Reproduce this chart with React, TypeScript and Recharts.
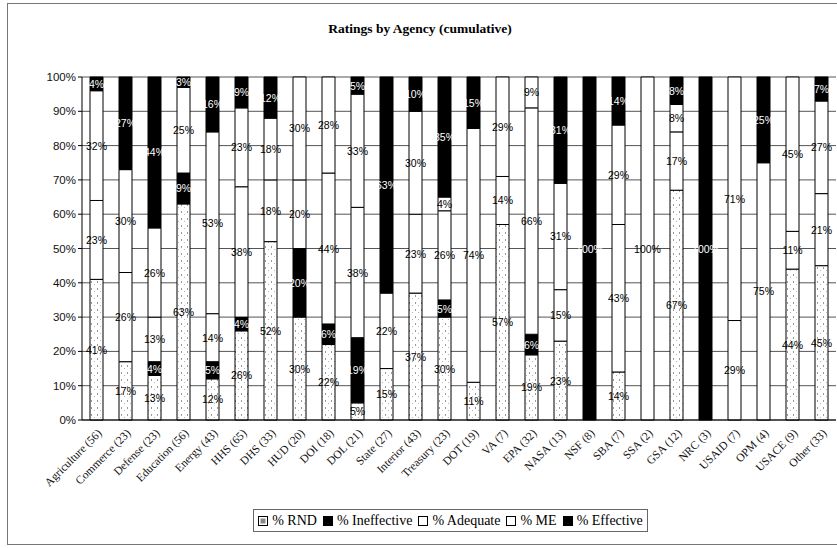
import React from 'react';
import {
  BarChart,
  Bar,
  XAxis,
  YAxis,
  CartesianGrid,
  LabelList,
} from 'recharts';

// agencies (number of programs in parentheses)
const agencies = [
  'Agriculture (56)', 'Commerce (23)', 'Defense (23)', 'Education (56)', 'Energy (43)',
  'HHS (65)', 'DHS (33)', 'HUD (20)', 'DOI (18)', 'DOL (21)', 'State (27)',
  'Interior (43)', 'Treasury (23)', 'DOT (19)', 'VA (7)', 'EPA (32)', 'NASA (13)',
  'NSF (8)', 'SBA (7)', 'SSA (2)', 'GSA (12)', 'NRC (3)', 'USAID (7)', 'OPM (4)',
  'USACE (9)', 'Other (33)',
];

// percent of programs per rating, bottom to top of each stack
const rnd = [41, 17, 13, 63, 12, 26, 52, 30, 22, 5, 15, 37, 30, 11, 57, 19, 23, 0, 14, 0, 67, 0, 0, 0, 44, 45];
const ineffective = [0, 0, 4, 9, 5, 4, 0, 20, 6, 19, 0, 0, 5, 0, 0, 6, 0, 0, 0, 0, 0, 0, 0, 0, 0, 0];
const adequate = [23, 26, 13, 0, 14, 38, 18, 20, 44, 38, 22, 23, 26, 0, 14, 66, 15, 0, 43, 100, 17, 0, 29, 75, 11, 21];
const me = [32, 30, 26, 25, 53, 23, 18, 30, 28, 33, 0, 30, 4, 74, 29, 9, 31, 0, 29, 0, 8, 0, 71, 0, 45, 27];
const effective = [4, 27, 44, 3, 16, 9, 12, 0, 0, 5, 63, 10, 35, 15, 0, 0, 31, 100, 14, 0, 8, 100, 0, 25, 0, 7];

const yTicks = [0, 10, 20, 30, 40, 50, 60, 70, 80, 90, 100];

const data = agencies.map((name, i) => ({
  name,
  rnd: rnd[i],
  ineffective: ineffective[i],
  adequate: adequate[i],
  me: me[i],
  effective: effective[i],
}));

const SERIES = [
  { key: 'rnd', name: '% RND', fill: 'url(#rndPattern)', text: '#000' },
  { key: 'ineffective', name: '% Ineffective', fill: '#000', text: '#fff' },
  { key: 'adequate', name: '% Adequate', fill: '#fff', text: '#000' },
  { key: 'me', name: '% ME', fill: '#fff', text: '#000' },
  { key: 'effective', name: '% Effective', fill: '#000', text: '#fff' },
];

const SERIF = "'Liberation Serif', 'Times New Roman', serif";
const SANS = "'Liberation Sans', Arial, sans-serif";

const AgencyTick = (props: any) => {
  const { x, y, payload } = props;
  const tx = x + 4;
  const ty = y + 4;
  return (
    <text
      x={tx}
      y={ty}
      transform={`rotate(-45, ${tx}, ${ty})`}
      textAnchor="end"
      dominantBaseline="middle"
      fontFamily={SERIF}
      fontSize={11.5}
      fill="#111"
    >
      {payload.value}
    </text>
  );
};

const segmentLabel = (color: string) => (props: any) => {
  const { x, y, width, height, value } = props;
  if (!value) return null;
  return (
    <text
      x={x + width / 2}
      y={y + height / 2}
      textAnchor="middle"
      dominantBaseline="central"
      fontFamily={SANS}
      fontSize={10.5}
      fill={color}
    >
      {value}%
    </text>
  );
};

const Swatch = ({ fill }: { fill: string }) => (
  <svg width={10} height={10} style={{ marginRight: 4 }}>
    {fill === 'pattern' ? (
      <>
        <rect x={0.5} y={0.5} width={9} height={9} fill="#fff" stroke="#000" />
        <rect x={2.5} y={2.5} width={5} height={5} fill="#888" />
      </>
    ) : (
      <rect x={0.5} y={0.5} width={9} height={9} fill={fill} stroke="#000" />
    )}
  </svg>
);

export default function App() {
  return (
    <div style={{ position: 'absolute', left: 0, top: 0, width: 837, height: 548, background: '#fff' }}>
      <div
        style={{
          position: 'absolute', left: 7, top: 3, width: 840, height: 542,
          border: '1px solid #777', boxSizing: 'border-box',
        }}
      />
      <div
        style={{
          position: 'absolute', left: 0, top: 21, width: 840, textAlign: 'center',
          fontFamily: SERIF, fontWeight: 'bold', fontSize: 13.5, color: '#000',
        }}
      >
        Ratings by Agency (cumulative)
      </div>
      <BarChart
        width={837}
        height={548}
        data={data}
        margin={{ top: 77, right: 1, left: 0, bottom: 0 }}
        barSize={13}
        style={{ position: 'absolute', left: 0, top: 0 }}
      >
        <defs>
          <pattern id="rndPattern" width={6} height={7} patternUnits="userSpaceOnUse">
            <rect width={6} height={7} fill="#fff" />
            <rect x={1} y={1} width={1} height={2} fill="#9a9a9a" />
            <rect x={4} y={4} width={1} height={1} fill="#b5b5b5" />
          </pattern>
        </defs>
        <CartesianGrid vertical={false} stroke="#555" />
        <XAxis
          dataKey="name"
          interval={0}
          height={128}
          tick={<AgencyTick />}
          tickLine={false}
          axisLine={{ stroke: '#000' }}
        />
        <YAxis
          width={82}
          domain={[0, 100]}
          ticks={yTicks}
          tickFormatter={(v: number) => `${v}%`}
          tick={{ fill: '#111', fontSize: 11.5, fontFamily: SANS }}
          tickSize={4}
          tickLine={{ stroke: '#000' }}
          axisLine={{ stroke: '#000' }}
        />
        {SERIES.map((s) => (
          <Bar
            key={s.key}
            dataKey={s.key}
            name={s.name}
            stackId="a"
            fill={s.fill}
            stroke="#000"
            strokeWidth={1}
            isAnimationActive={false}
          >
            <LabelList dataKey={s.key} content={segmentLabel(s.text)} />
          </Bar>
        ))}
      </BarChart>
      <div
        style={{
          position: 'absolute', left: 253, top: 509, width: 395, height: 23,
          border: '1px solid #666', boxSizing: 'border-box',
          display: 'flex', alignItems: 'center', justifyContent: 'center',
          fontFamily: SERIF, fontSize: 14, color: '#000', gap: 6,
        }}
      >
        {SERIES.map((s) => (
          <span key={s.key} style={{ display: 'flex', alignItems: 'center', fontFamily: SERIF }}>
            <Swatch fill={s.key === 'rnd' ? 'pattern' : s.fill} />
            {s.name}
          </span>
        ))}
      </div>
    </div>
  );
}
